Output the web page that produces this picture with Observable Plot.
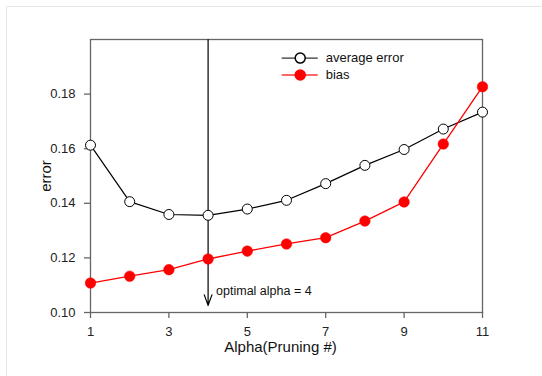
<!DOCTYPE html>
<html>
<head>
<meta charset="utf-8">
<script src="https://cdn.jsdelivr.net/npm/d3@7"></script>
<script src="https://cdn.jsdelivr.net/npm/@observablehq/plot@0.6"></script>
<style>
  html, body { margin: 0; padding: 0; background: #fff; }
  #chart { position: relative; width: 542px; height: 376px; }
  svg { font-family: "Liberation Sans", Arial, sans-serif; }
</style>
</head>
<body>
<div id="chart"></div>
<script>
const alpha = [1, 2, 3, 4, 5, 6, 7, 8, 9, 10, 11];
const averageError = [0.1613, 0.1406, 0.1359, 0.1356, 0.1379, 0.1411, 0.1472, 0.1539, 0.1597, 0.1672, 0.1734];
const bias = [0.1108, 0.1133, 0.1157, 0.1196, 0.1225, 0.1251, 0.1274, 0.1335, 0.1405, 0.1617, 0.1827];
const xTicks = [1, 3, 5, 7, 9, 11];
const yTicks = [0.10, 0.12, 0.14, 0.16, 0.18];
const optimalAlpha = 4;
const seriesNames = ["average error", "bias"];
const xTitle = "Alpha(Pruning #)";
const yTitle = "error";

const avgData = alpha.map((a, i) => ({x: a, y: averageError[i]}));
const biasData = alpha.map((a, i) => ({x: a, y: bias[i]}));

// legend anchor in data space
const legX0 = 5.89, legX1 = 6.81, legXc = 6.35, legTextX = 7.0;
const legY = [0.1932, 0.1870];
const legend = seriesNames.map((n, i) => ({name: n, y: legY[i]}));

const chart = Plot.plot({
  width: 542,
  height: 376,
  marginLeft: 90,
  marginRight: 60,
  marginTop: 39,
  marginBottom: 64,
  style: {fontFamily: "Liberation Sans, Arial, sans-serif", fontSize: "13px", color: "#222"},
  x: {domain: [1, 11], ticks: xTicks, tickFormat: d => String(d), label: null},
  y: {domain: [0.10, 0.20], ticks: yTicks, tickFormat: d3.format(".2f"), label: null},
  marks: [
    Plot.frame({stroke: "#666", strokeWidth: 1.3}),
    Plot.axisX({ticks: xTicks, tickSize: 6, tickPadding: 8, stroke: "#666", strokeWidth: 1.3, fontSize: 13, label: null, tickFormat: d => String(d)}),
    Plot.axisY({ticks: yTicks, tickSize: 6, tickPadding: 9, stroke: "#666", strokeWidth: 1.3, fontSize: 13, label: null, tickFormat: d3.format(".2f")}),
    Plot.text([xTitle], {frameAnchor: "bottom", text: d => d, textAnchor: "middle", lineAnchor: "middle", dy: 35, dx: -6, fontSize: 15, fill: "#111"}),
    Plot.text([yTitle], {frameAnchor: "left", text: d => d, textAnchor: "middle", lineAnchor: "middle", dx: -44, rotate: -90, fontSize: 15, fill: "#111"}),
    Plot.arrow([{x: optimalAlpha}], {x1: "x", x2: "x", y1: () => 0.2, y2: () => 0.1026, stroke: "#000", strokeWidth: 1.2, headLength: 14, headAngle: 40, insetStart: 0, insetEnd: 0}),
    Plot.text([{x: optimalAlpha}], {x: "x", y: () => 0.1077, text: () => "optimal alpha = " + optimalAlpha, textAnchor: "start", dx: 8, fontSize: 12.5, fill: "#111"}),
    Plot.line(avgData, {x: "x", y: "y", stroke: "#000", strokeWidth: 1.2}),
    Plot.dot(avgData, {x: "x", y: "y", r: 5, fill: "#fff", stroke: "#000", strokeWidth: 1}),
    Plot.line(biasData, {x: "x", y: "y", stroke: "#ff0000", strokeWidth: 1.3}),
    Plot.dot(biasData, {x: "x", y: "y", r: 5.3, fill: "#ff0000", stroke: "#ff0000", strokeWidth: 0.5}),
    Plot.ruleY(legend, {x1: () => legX0, x2: () => legX1, y: "y", stroke: (d, i) => i === 0 ? "#333" : "#ff3333", strokeWidth: 1.3}),
    Plot.dot(legend, {x: () => legXc, y: "y", r: 5, fill: (d, i) => i === 0 ? "#fff" : "#ff0000", stroke: (d, i) => i === 0 ? "#000" : "#ff0000"}),
    Plot.text(legend, {x: () => legTextX, y: "y", text: "name", textAnchor: "start", fontSize: 13, fill: "#111"})
  ]
});
document.getElementById("chart").appendChild(chart);

// faint outer border (left and top edges)
const svg = d3.select(chart);
svg.append("line").attr("x1", 6.5).attr("x2", 6.5).attr("y1", 6.5).attr("y2", 376).attr("stroke", "#e6e6e6");
svg.append("line").attr("x1", 6.5).attr("x2", 542).attr("y1", 6.5).attr("y2", 6.5).attr("stroke", "#e6e6e6");
</script>
</body>
</html>
